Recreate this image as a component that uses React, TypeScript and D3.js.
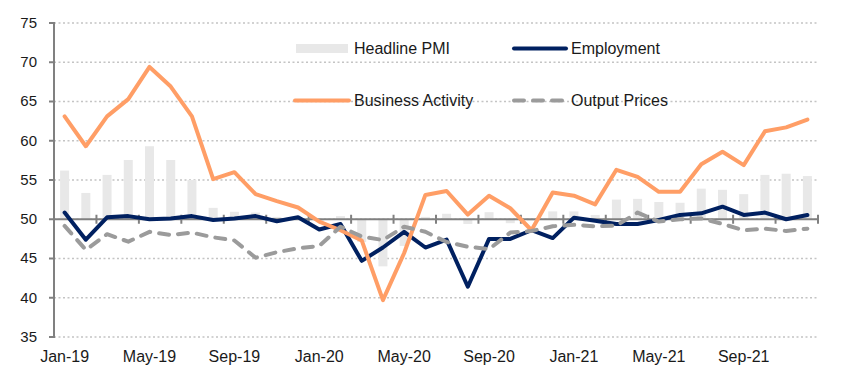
import React from "react";
import * as d3 from "d3";

const months = [
  "Jan-19","Feb-19","Mar-19","Apr-19","May-19","Jun-19","Jul-19","Aug-19","Sep-19","Oct-19","Nov-19","Dec-19",
  "Jan-20","Feb-20","Mar-20","Apr-20","May-20","Jun-20","Jul-20","Aug-20","Sep-20","Oct-20","Nov-20","Dec-20",
  "Jan-21","Feb-21","Mar-21","Apr-21","May-21","Jun-21","Jul-21","Aug-21","Sep-21","Oct-21","Nov-21","Dec-21",
];

const headlinePMI = [
  56.2, 53.35, 55.65, 57.55, 59.3, 57.55, 55.0, 51.45, 50.95, 50.85, 50.3, 50.2,
  49.8, 50.4, 47.1, 44.0, 46.6, 50.3, 50.7, 49.4, 50.9, 49.5, 49.8, 51.0,
  51.0, 50.55, 52.5, 52.6, 52.2, 52.1, 53.9, 53.75, 53.2, 55.65, 55.8, 55.5,
];

const employment = [
  50.85, 47.4, 50.25, 50.4, 50.0, 50.1, 50.4, 49.9, 50.1, 50.4, 49.75, 50.25,
  48.7, 49.4, 44.7, 46.4, 48.4, 46.4, 47.4, 41.4, 47.5, 47.5, 48.6, 47.6,
  50.2, 49.8, 49.4, 49.4, 49.9, 50.55, 50.75, 51.6, 50.55, 50.85, 50.0, 50.55,
];

const businessActivity = [
  63.1, 59.3, 63.1, 65.3, 69.4, 66.9, 63.1, 55.1, 56.0, 53.2, 52.3, 51.5,
  49.7, 48.6, 47.3, 39.7, 45.7, 53.1, 53.6, 50.6, 53.0, 51.4, 48.6, 53.4,
  53.0, 51.9, 56.3, 55.4, 53.5, 53.5, 57.0, 58.6, 56.9, 61.2, 61.7, 62.7,
];

const outputPrices = [
  49.15, 46.1, 48.1, 47.15, 48.4, 48.0, 48.3, 47.7, 47.3, 45.1, 45.8, 46.3,
  46.6, 49.05, 47.8, 47.35, 49.05, 48.4, 47.1, 46.5, 46.2, 48.3, 48.5, 49.1,
  49.3, 49.1, 49.2, 50.85, 49.7, 50.0, 50.1, 49.4, 48.6, 48.8, 48.5, 48.8,
];

const yTicks = [35, 40, 45, 50, 55, 60, 65, 70, 75];
const xLabelMonths = ["Jan-19","May-19","Sep-19","Jan-20","May-20","Sep-20","Jan-21","May-21","Sep-21"];

const W = 855, H = 375;
const left = 54, right = 818, top = 23, bottom = 337;
const FONT = "'Liberation Sans', Arial, sans-serif";
const NAVY = "#002060";
const ORANGE = "#FF9E66";
const GRAY = "#9B9B9B";
const BAR = "#E8E8E8";
const AXIS = "#808080";

export default function App() {
  const x = d3.scaleBand<string>().domain(months).range([left, right]).padding(0);
  const bw = x.bandwidth();
  const cx = (m: string) => (x(m) as number) + bw / 2;
  const y = d3.scaleLinear().domain([35, 75]).range([bottom, top]);
  const barW = 9;

  const line = (vals: number[]) =>
    d3.line<number>().x((_, i) => cx(months[i])).y((v) => y(v))(vals) as string;

  const boundaryTicks = d3.range(0, months.length + 1, 2).map((i) => left + i * bw);

  return (
    <div style={{ position: "absolute", left: 0, top: 0 }}>
      <svg width={W} height={H} style={{ display: "block", background: "#fff" }}>
        {/* gridlines */}
        {yTicks.map((t) => (
          <line key={"g" + t} x1={left} x2={right} y1={y(t)} y2={y(t)}
            stroke="#C4C4C4" strokeWidth={1.5} strokeDasharray="2 2.5" />
        ))}
        {/* bars from 50 */}
        {headlinePMI.map((v, i) => {
          const y0 = y(50), y1 = y(v);
          return (
            <rect key={"b" + i} x={cx(months[i]) - barW / 2} width={barW}
              y={Math.min(y0, y1)} height={Math.abs(y1 - y0)} fill={BAR} />
          );
        })}
        {/* y axis */}
        <line x1={left} x2={left} y1={top - 1} y2={bottom + 1} stroke={AXIS} strokeWidth={2} />
        {yTicks.map((t) => (
          <g key={"yt" + t}>
            <line x1={left - 5} x2={left} y1={y(t)} y2={y(t)} stroke={AXIS} strokeWidth={2} />
            <text x={37} y={y(t)} dy="0.33em" textAnchor="end" fontFamily={FONT} fontSize={15} fill="#1a1a1a">{t}</text>
          </g>
        ))}
        {/* x axis at 50 */}
        <line x1={left} x2={right} y1={y(50)} y2={y(50)} stroke={AXIS} strokeWidth={2} />
        {boundaryTicks.map((bx, i) => (
          <line key={"xt" + i} x1={bx} x2={bx} y1={y(50) - 4.5} y2={y(50) + 4.5} stroke={AXIS} strokeWidth={2} />
        ))}
        {xLabelMonths.map((m) => (
          <text key={"xl" + m} x={cx(m)} y={362} textAnchor="middle" fontFamily={FONT} fontSize={16} fill="#1a1a1a">{m}</text>
        ))}
        {/* series lines */}
        <path d={line(employment)} fill="none" stroke={NAVY} strokeWidth={4} strokeLinejoin="round" strokeLinecap="round" />
        <path d={line(businessActivity)} fill="none" stroke={ORANGE} strokeWidth={4} strokeLinejoin="round" strokeLinecap="round" />
        <path d={line(outputPrices)} fill="none" stroke={GRAY} strokeWidth={4} strokeLinejoin="round" strokeLinecap="round" strokeDasharray="10 9" />
        {/* legend */}
        <g fontFamily={FONT} fontSize={16} fill="#1a1a1a">
          <rect x={296} y={44} width={52} height={9} fill={BAR} />
          <text x={354} y={54}>Headline PMI</text>
          <line x1={514} x2={566} y1={48.5} y2={48.5} stroke={NAVY} strokeWidth={4} strokeLinecap="round" />
          <text x={571} y={54}>Employment</text>
          <line x1={295} x2={349} y1={100.5} y2={100.5} stroke={ORANGE} strokeWidth={4} strokeLinecap="round" />
          <text x={354} y={106}>Business Activity</text>
          <line x1={514} x2={566} y1={100.5} y2={100.5} stroke={GRAY} strokeWidth={4} strokeLinecap="round" strokeDasharray="10 9" />
          <text x={571} y={106}>Output Prices</text>
        </g>
      </svg>
    </div>
  );
}
